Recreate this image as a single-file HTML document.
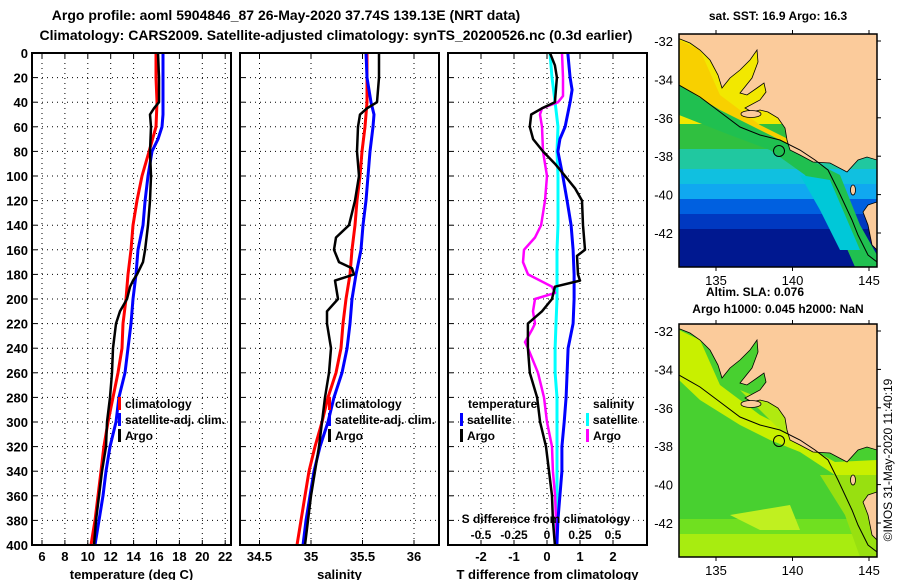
<!DOCTYPE html>
<html><head><meta charset="utf-8"><title>Argo profile</title>
<style>
html,body{margin:0;padding:0;background:#fff;}
svg{display:block;font-family:"Liberation Sans",Arial,sans-serif;font-weight:bold;}
</style></head>
<body>
<svg id="fig" width="900" height="580" viewBox="0 0 900 580" xmlns="http://www.w3.org/2000/svg">
<text x="286" y="20" font-size="14" text-anchor="middle">Argo profile: aoml 5904846_87 26-May-2020 37.74S 139.13E (NRT data)</text>
<text x="336" y="40" font-size="14" text-anchor="middle">Climatology: CARS2009. Satellite-adjusted climatology: synTS_20200526.nc (0.3d earlier)</text>
<g id="plots"></g>
<g id="maps"></g>
<text x="778" y="20" font-size="12" text-anchor="middle">sat. SST: 16.9 Argo: 16.3</text>
<text x="755" y="296" font-size="12" text-anchor="middle">Altim. SLA: 0.076</text>
<text x="778" y="313" font-size="12" text-anchor="middle">Argo h1000: 0.045 h2000: NaN</text>
<text x="0" y="0" font-size="12" font-weight="normal" text-anchor="middle" transform="translate(892,460) rotate(-90)">©IMOS 31-May-2020 11:40:19</text>
</svg>
<script>
// ---------- data ----------
const depthTicks = [0,20,40,60,80,100,120,140,160,180,200,220,240,260,280,300,320,340,360,380,400];
const tempTicks = [6,8,10,12,14,16,18,20,22];
const salTicks = [34.5,35,35.5,36];
const tdiffTicks = [-2,-1,0,1,2];
const sdiffTicks = [-0.5,-0.25,0,0.25,0.5];
const sdiffTickLabels = ["-0.5","-0.25","0","0.25","0.5"];

const climTDepth = [0,20,40,60,80,100,120,140,160,180,200,220,240,260,280,300,320,340,360,380,400];
const climT = [15.96,15.96,16.04,15.96,15.35,14.73,14.30,13.95,13.77,13.51,13.34,13.07,12.99,12.64,12.20,11.76,11.41,11.15,10.89,10.63,10.28];
const satTDepth = [0,20,40,50,60,70,80,100,120,140,160,180,200,220,240,260,280,300,320,340,360,380,400];
const satT = [16.57,16.57,16.57,16.57,16.48,16.13,15.61,15.26,15.0,14.82,14.38,14.21,13.95,13.77,13.51,13.25,12.72,12.46,11.94,11.59,11.33,10.98,10.63];
const argoTDepth = [0,20,40,45,50,60,80,100,120,140,160,170,180,185,190,200,210,220,240,260,280,300,320,340,360,380,400];
const argoT = [16.13,16.22,16.22,15.78,15.43,15.52,15.43,15.52,15.43,15.26,15.0,14.82,14.30,13.95,13.69,13.42,12.81,12.46,12.20,12.11,11.94,11.68,11.59,11.24,10.98,10.72,10.54];

const climSDepth = [0,20,40,60,80,100,120,140,160,180,200,220,240,260,280,300,320,340,360,380,400];
const climS = [35.544,35.544,35.544,35.524,35.495,35.476,35.447,35.427,35.398,35.379,35.340,35.311,35.291,35.243,35.165,35.107,35.039,34.981,34.942,34.903,34.864];
const satSDepth = [0,20,40,50,60,80,100,120,140,160,180,200,220,240,260,280,300,320,340,360,380,400];
const satS = [35.534,35.544,35.583,35.612,35.602,35.573,35.553,35.534,35.505,35.485,35.437,35.398,35.379,35.350,35.301,35.223,35.165,35.087,35.029,34.990,34.951,34.922];
const argoSDepth = [0,20,40,45,50,60,80,100,120,140,150,160,170,175,180,185,200,210,220,240,260,280,300,320,340,360,380,400];
const argoS = [35.660,35.660,35.641,35.544,35.476,35.456,35.447,35.466,35.427,35.369,35.243,35.223,35.272,35.398,35.417,35.233,35.262,35.155,35.155,35.194,35.175,35.136,35.107,35.078,35.039,35.0,34.971,34.942];

const satDTDepth = [0,20,30,40,60,70,80,100,120,140,160,180,200,220,240,260,280,300,320,340,360,380,400];
const satDT = [0.63,0.70,0.76,0.70,0.55,0.39,0.33,0.48,0.61,0.73,0.79,0.82,0.82,0.79,0.64,0.61,0.58,0.52,0.45,0.45,0.39,0.33,0.30];
const argoDTDepth = [0,10,20,40,45,50,60,70,80,90,100,110,120,140,160,165,180,185,190,200,210,220,240,260,280,300,320,340,360,380,400];
const argoDT = [0.09,0.24,0.30,0.24,-0.15,-0.48,-0.52,-0.42,-0.12,0.24,0.55,0.85,1.06,1.09,1.15,0.91,0.94,1.0,0.24,0.15,-0.15,-0.58,-0.58,-0.52,-0.30,-0.21,-0.03,0.06,0.15,0.18,0.24];
const satDSDepth = [0,20,40,60,80,100,120,140,160,180,200,220,240,260,280,300,320,340,360,380,400];
const satDS = [0.023,0.038,0.061,0.083,0.076,0.083,0.083,0.083,0.076,0.076,0.076,0.068,0.061,0.061,0.076,0.076,0.076,0.076,0.076,0.068,0.068];
const argoDSDepth = [0,20,35,40,45,50,60,80,100,120,140,150,160,170,180,190,195,200,210,220,225,235,240,260,280,300,320,340,360,380,400];
const argoDS = [0.114,0.121,0.121,0.083,-0.038,-0.053,-0.038,-0.030,0,-0.015,-0.045,-0.091,-0.174,-0.182,-0.144,0.038,0.061,-0.091,-0.106,-0.091,-0.114,-0.167,-0.144,-0.068,-0.023,0,0.038,0.045,0.061,0.068,0.076];

const mapLonTicks = [135,140,145];
const mapLatTicks = [-32,-34,-36,-38,-40,-42];

// ---------- helpers ----------
const NS = "http://www.w3.org/2000/svg";
function mk(parent, tag, attrs, txt){
  const e = document.createElementNS(NS, tag);
  for (const k in attrs) e.setAttribute(k, attrs[k]);
  if (txt !== undefined) e.textContent = txt;
  parent.appendChild(e);
  return e;
}
const plots = document.getElementById('plots');
const TOP = 53, BOT = 545;
function yD(d){ return TOP + (BOT-TOP)*d/400; }

function panel(name, x0, x1, xfn, ticks, tickLabels, title){
  const g = mk(plots, 'g', {});
  
  
  for (const d of depthTicks){
    if (d===0||d===400) continue;
    const l = mk(g,'line',{x1:x0,x2:x1,y1:yD(d),y2:yD(d),stroke:'#000','stroke-width':1,'stroke-dasharray':'1,4'});
    
    
  }
  ticks.forEach((t,i)=>{
    const x = xfn(t);
    const l = mk(g,'line',{x1:x,x2:x,y1:TOP,y2:BOT,stroke:'#000','stroke-width':1,'stroke-dasharray':'1,4'});
    
    
    const tk = mk(g,'line',{x1:x,x2:x,y1:BOT,y2:BOT-5,stroke:'#000'});
    
    
    const tk2 = mk(g,'line',{x1:x,x2:x,y1:TOP,y2:TOP+5,stroke:'#000'});
    
    
    const lb = mk(g,'text',{x:x,y:BOT+16,'font-size':13,'text-anchor':'middle'}, tickLabels[i]);
    
    
  });
  const t = mk(g,'text',{x:(x0+x1)/2,y:579,'font-size':13,'text-anchor':'middle'}, title);
  
  
  return g;
}
function frame(g, x0, x1){
  const r = mk(g,'rect',{x:x0,y:TOP,width:x1-x0,height:BOT-TOP,fill:'none',stroke:'#000','stroke-width':2});
  
  
}
function series(g, name, depths, vals, xfn, color, w){
  const pts = depths.map((d,i)=> xfn(vals[i]).toFixed(1)+','+yD(d).toFixed(1)).join(' ');
  const p = mk(g,'polyline',{points:pts,fill:'none',stroke:color,'stroke-width':w,'stroke-linejoin':'round'});
  
  
}
function legendEntry(g, name, x, y, color, label){
  if (color){
    const b = mk(g,'rect',{x:x-7,y:y-11,width:3,height:13,fill:color});
    
    
  }
  const t = mk(g,'text',{x:x,y:y,'font-size':12}, label);
  
  
}

const yg = mk(plots,'g',{});


for (const d of depthTicks){
  const t = mk(yg,'text',{x:28,y:yD(d)+5,'font-size':13,'text-anchor':'end'}, String(d));
  
  
}

const xT = v => 42 + (v-6)*11.45;
const p1 = panel('temperature-panel', 32, 231, xT, tempTicks, tempTicks.map(String), 'temperature (deg C)');
for (const d of depthTicks){ const a=mk(p1,'line',{x1:32,x2:37,y1:yD(d),y2:yD(d),stroke:'#000'});   }
series(p1,'temp-climatology-line',climTDepth,climT,xT,'#f00',3);
series(p1,'temp-satellite-line',satTDepth,satT,xT,'#00f',3);
series(p1,'temp-argo-line',argoTDepth,argoT,xT,'#000',2.5);
legendEntry(p1,'legend-climatology',125,408,'#f00','climatology');
legendEntry(p1,'legend-satellite-adj',125,424,'#00f','satellite-adj. clim.');
legendEntry(p1,'legend-argo',125,440,'#000','Argo');
frame(p1,32,231);

const xS = v => 311 + (v-35)*103;
const p2 = panel('salinity-panel', 240, 439, xS, salTicks, salTicks.map(String), 'salinity');
for (const d of depthTicks){ const a=mk(p2,'line',{x1:240,x2:245,y1:yD(d),y2:yD(d),stroke:'#000'});   }
series(p2,'sal-climatology-line',climSDepth,climS,xS,'#f00',3);
series(p2,'sal-satellite-line',satSDepth,satS,xS,'#00f',3);
series(p2,'sal-argo-line',argoSDepth,argoS,xS,'#000',2.5);
legendEntry(p2,'legend-climatology-sal',335,408,'#f00','climatology');
legendEntry(p2,'legend-satellite-adj-sal',335,424,'#00f','satellite-adj. clim.');
legendEntry(p2,'legend-argo-sal',335,440,'#000','Argo');
frame(p2,240,439);

const xDT = v => 547 + v*33;
const xDS = v => 547 + v*132;
const p3 = panel('difference-panel', 448, 647, xDT, tdiffTicks, tdiffTicks.map(String), 'T difference from climatology');
for (const d of depthTicks){ const a=mk(p3,'line',{x1:448,x2:453,y1:yD(d),y2:yD(d),stroke:'#000'});   }
series(p3,'sdiff-satellite-line',satDSDepth,satDS,xDS,'#0ff',3);
series(p3,'sdiff-argo-line',argoDSDepth,argoDS,xDS,'#f0f',2.5);
series(p3,'tdiff-satellite-line',satDTDepth,satDT,xDT,'#00f',3);
series(p3,'tdiff-argo-line',argoDTDepth,argoDT,xDT,'#000',2.5);
legendEntry(p3,'legend-temperature-heading',468,408,null,'temperature');
legendEntry(p3,'legend-tdiff-satellite',467,424,'#00f','satellite');
legendEntry(p3,'legend-tdiff-argo',467,440,'#000','Argo');
legendEntry(p3,'legend-salinity-heading',593,408,null,'salinity');
legendEntry(p3,'legend-sdiff-satellite',593,424,'#0ff','satellite');
legendEntry(p3,'legend-sdiff-argo',593,440,'#f0f','Argo');
const st = mk(p3,'text',{x:546,y:523,'font-size':12,'text-anchor':'middle'},'S difference from climatology');


sdiffTicks.forEach((v,i)=>{
  const t = mk(p3,'text',{x:xDS(v),y:539,'font-size':12,'text-anchor':'middle'}, sdiffTickLabels[i]);
  
  
});
frame(p3,448,647);

// ---------- maps ----------
const maps = document.getElementById('maps');
function lonX(l){ return 716 + (l-135)*15.3; }
function latY(l, off){ return 41 + off + (-32-l)*19.2; }
function drawMap(name, off, bands, coastal){
  const g = mk(maps,'g',{});
  
  
  const y0 = 34+off, y1 = 267+off;
  const clipId = name+'-clip';
  const cp = mk(g,'clipPath',{id:clipId});
  mk(cp,'rect',{x:679,y:y0,width:198,height:y1-y0});
  const inner = mk(g,'g',{'clip-path':'url(#'+clipId+')'});
  bands.forEach(b=>{
    const r = mk(inner,'rect',{x:679,y:y0+b[0],width:198,height:b[1]-b[0]+1,fill:b[2]});
    
    
  });
  coastal.forEach(c=>{
    const p = mk(inner,'polygon',{points:c[0].map(q=>q[0]+','+(q[1]+off)).join(' '),fill:c[1]});
    
    
  });
  const land = [[679,34],[877,34],[877,160],[867,157],[858,160],[847,172],[830,163],[813,162],[800,155],[790,150],[787,140],[785,128],[778,118],[768,112],[760,110],[752,112],[745,108],[760,100],[766,92],[764,83],[757,88],[747,95],[740,93],[752,78],[758,62],[757,50],[750,60],[740,70],[730,78],[722,88],[718,75],[710,60],[700,50],[690,43],[680,39],[679,39]];
  const lp = mk(inner,'polygon',{points:land.map(q=>q[0]+','+(q[1]+off)).join(' '),fill:'#fbcb9b',stroke:'#000','stroke-width':0.8});
  
  
  const tas = [[877,202],[868,205],[863,212],[868,225],[872,245],[877,250]];
  const tp = mk(inner,'polygon',{points:tas.map(q=>q[0]+','+(q[1]+off)).join(' '),fill:'#fbcb9b',stroke:'#000','stroke-width':0.8});
  
  
  const ki = mk(inner,'ellipse',{cx:751,cy:114+off,rx:10,ry:3.5,fill:'#fbcb9b',stroke:'#000','stroke-width':0.8});
  
  
  const ki2 = mk(inner,'ellipse',{cx:853,cy:190+off,rx:2.5,ry:5,fill:'#fbcb9b',stroke:'#000','stroke-width':0.8});
  
  
  const shelf = [[679,85],[700,97],[720,112],[740,127],[760,135],[780,140],[800,150],[815,160],[828,170],[838,190],[845,205],[852,220],[858,235],[868,255],[877,262]];
  const sp = mk(inner,'polyline',{points:shelf.map(q=>q[0]+','+(q[1]+off)).join(' '),fill:'none',stroke:'#000','stroke-width':1});
  
  
  const c = mk(inner,'circle',{cx:779,cy:151+off,r:5.5,fill:'none',stroke:'#000','stroke-width':1});
  
  
  const fr = mk(g,'rect',{x:679,y:y0,width:198,height:y1-y0,fill:'none',stroke:'#000','stroke-width':1.5});
  
  
  mapLonTicks.forEach(l=>{
    const x = lonX(l);
    const a = mk(g,'line',{x1:x,x2:x,y1:y0,y2:y0-4,stroke:'#000'});
    
    
    const b = mk(g,'line',{x1:x,x2:x,y1:y1,y2:y1+4,stroke:'#000'});
    
    
    const t = mk(g,'text',{x:x,y:y1+18,'font-size':13,'font-weight':'normal','text-anchor':'middle'}, String(l));
    
    
  });
  mapLatTicks.forEach(l=>{
    const y = latY(l, off);
    const a = mk(g,'line',{x1:877,x2:881,y1:y,y2:y,stroke:'#000'});
    
    
    const t = mk(g,'text',{x:673,y:y+5,'font-size':13,'font-weight':'normal','text-anchor':'end'}, String(l));
    
    
  });
}
drawMap('sst-map', 0,
  [[0,90,'#f2e800'],[90,115,'#30c040'],[115,135,'#20c8a0'],[135,150,'#10c0e0'],[150,165,'#10a8f0'],[165,180,'#0060e0'],[180,195,'#0038c0'],[195,240,'#001890']],
  [[[[679,40],[700,50],[720,95],[760,125],[790,140],[780,150],[740,135],[700,110],[679,95]],'#f8d000'],
   [[[679,85],[720,110],[760,130],[790,145],[810,160],[840,175],[850,200],[860,225],[877,255],[877,267],[855,267],[830,210],[805,175],[770,150],[730,135],[679,115]],'#20c050'],
   [[[800,175],[830,180],[845,215],[860,250],[840,250],[820,210]],'#00c8d8']]);
drawMap('sla-map', 290,
  [[0,240,'#48d030'],[195,240,'#70e020'],[210,240,'#a8ec10']],
  [[[[679,40],[700,50],[720,95],[760,125],[790,140],[810,158],[835,172],[877,170],[877,185],[835,185],[800,162],[770,150],[740,135],[700,110],[679,90]],'#c8f000'],
   [[[740,100],[790,120],[800,150],[780,140]],'#b0ea10'],
   [[[820,185],[877,185],[877,267],[860,267],[845,225]],'#98e010'],
   [[[730,225],[790,215],[800,240],[760,240]],'#c0f020']]);
</script>
</body></html>
